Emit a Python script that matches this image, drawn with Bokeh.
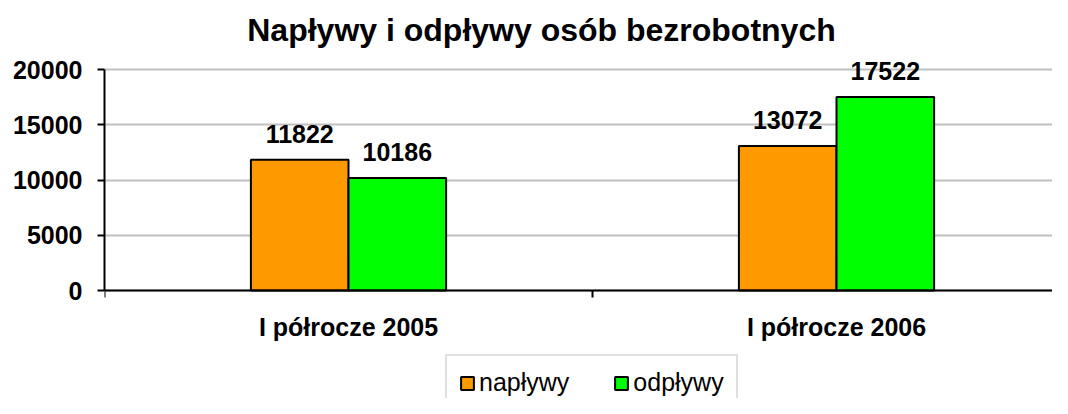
from bokeh.plotting import figure
from bokeh.models import (ColumnDataSource, Range1d, FixedTicker, LabelSet, Label,
                          Legend, LegendItem)
from bokeh.core.properties import value
from bokeh.embed import file_html
from bokeh.resources import INLINE

# ---- data ----
categories = ["I półrocze 2005", "I półrocze 2006"]
series_names = ["napływy", "odpływy"]
naplywy = [11822, 13072]
odplywy = [10186, 17522]
y_ticks = [0, 5000, 10000, 15000, 20000]
title_text = "Napływy i odpływy osób bezrobotnych"

colors = ["#FF9900", "#00FF00"]
FONT = "Liberation Sans"

# ---- layout constants (pixels) ----
W, H = 1052, 398
LEFT = 104          # frame left edge
Y_TOP_PX = 69       # pixel row of the top tick (20000)
Y_ZERO_PX = 290     # pixel row of 0
CAT_PX = 488        # pixel width of one category

ymax = y_ticks[-1]
per_px = ymax / (Y_ZERO_PX - Y_TOP_PX)
y_end = ymax + Y_TOP_PX * per_px
y_start = -(H - Y_ZERO_PX) * per_px

p = figure(width=W, height=H, output_backend="svg", toolbar_location=None,
           x_range=Range1d(0, (W - LEFT) / CAT_PX), y_range=Range1d(y_start, y_end),
           min_border_left=LEFT, min_border_right=0, min_border_top=0,
           min_border_bottom=0, title=None)
p.outline_line_color = None
p.background_fill_color = "white"
p.border_fill_color = "white"

bw = 0.2
centers = [i + 0.5 for i in range(len(categories))]
src1 = ColumnDataSource(dict(x=[c - bw / 2 for c in centers], top=naplywy,
                             lab=[str(v) for v in naplywy]))
src2 = ColumnDataSource(dict(x=[c + bw / 2 for c in centers], top=odplywy,
                             lab=[str(v) for v in odplywy]))

r1 = p.vbar(x="x", top="top", width=bw, bottom=0, source=src1,
            fill_color=colors[0], line_color="black", line_width=2)
r2 = p.vbar(x="x", top="top", width=bw, bottom=0, source=src2,
            fill_color=colors[1], line_color="black", line_width=2)

for src in (src1, src2):
    p.add_layout(LabelSet(x="x", y="top", text="lab", source=src,
                          text_align="center", text_baseline="alphabetic",
                          y_offset=17, text_font=value(FONT), text_font_size="25px",
                          text_font_style="bold", text_color="black"))

# y axis
p.yaxis.ticker = FixedTicker(ticks=y_ticks)
p.yaxis.bounds = (0, ymax)
p.yaxis.axis_line_color = "black"
p.yaxis.axis_line_width = 2
p.yaxis.major_tick_out = 7
p.yaxis.major_tick_in = 0
p.yaxis.major_tick_line_width = 2
p.yaxis.minor_tick_line_color = None
p.yaxis.major_label_text_font = FONT
p.yaxis.major_label_text_font_size = "25px"
p.yaxis.major_label_text_font_style = "bold"
p.yaxis.major_label_text_color = "black"
p.yaxis.major_label_standoff = 15

# x axis (fixed at y = 0)
p.xaxis.fixed_location = 0
p.xaxis.ticker = FixedTicker(ticks=centers, minor_ticks=list(range(len(categories) + 1)))
p.xaxis.major_label_overrides = {c: cat for c, cat in zip(centers, categories)}
p.xaxis.axis_line_color = "black"
p.xaxis.axis_line_width = 2
p.xaxis.major_tick_line_color = None
p.xaxis.major_tick_out = 0
p.xaxis.major_tick_in = 0
p.xaxis.minor_tick_out = 7
p.xaxis.minor_tick_in = 0
p.xaxis.minor_tick_line_width = 2
p.xaxis.minor_tick_line_color = "black"
p.xaxis.major_label_text_font = FONT
p.xaxis.major_label_text_font_size = "25px"
p.xaxis.major_label_text_font_style = "bold"
p.xaxis.major_label_text_color = "black"
p.xaxis.major_label_standoff = 15

# grid
p.xgrid.grid_line_color = None
p.ygrid.ticker = FixedTicker(ticks=y_ticks)
p.ygrid.grid_line_color = "#C0C0C0"
p.ygrid.grid_line_width = 2

# title
p.add_layout(Label(x=541 - LEFT, y=H - 29, x_units="screen", y_units="screen",
                   text=title_text, text_align="center", text_baseline="alphabetic",
                   text_font=FONT, text_font_size="32px", text_font_style="bold",
                   text_color="black"))

# legend
legend = Legend(items=[LegendItem(label=series_names[0], renderers=[r1]),
                       LegendItem(label=series_names[1], renderers=[r2])],
                orientation="horizontal", location=(341, -13),
                glyph_width=16, glyph_height=16, label_standoff=4, spacing=44,
                padding=12, margin=0,
                label_text_font=FONT, label_text_font_size="25px",
                label_text_color="black",
                border_line_color="#C0C0C0", border_line_width=2,
                background_fill_color="white", background_fill_alpha=1)
p.add_layout(legend, "center")

open("out.html", "w").write(file_html(p, INLINE))
